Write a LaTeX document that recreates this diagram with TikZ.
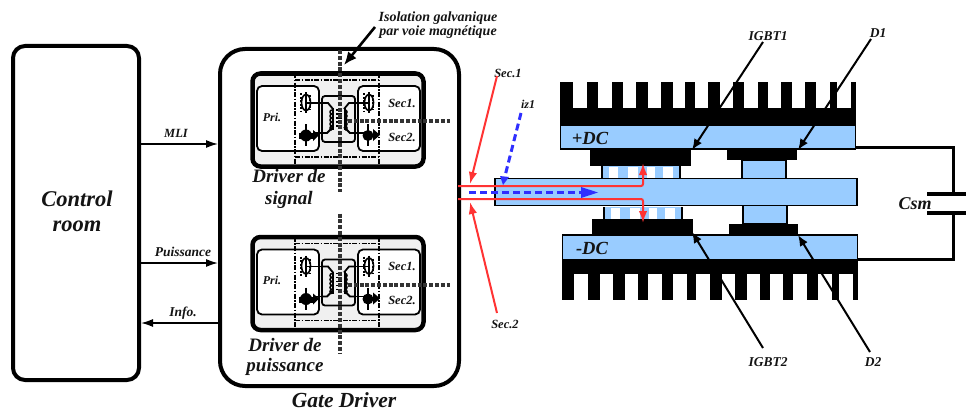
\documentclass[tikz,border=0pt]{standalone}
\usepackage{fontspec}
\setmainfont{Liberation Serif}
\usetikzlibrary{arrows.meta}
\definecolor{barblue}{HTML}{99CCFF}
\definecolor{redline}{HTML}{FF3333}
\definecolor{blueline}{HTML}{2F2FFF}
\definecolor{cellgray}{HTML}{F0F0F0}
\tikzset{
  lbl/.style={inner sep=0pt,font=\bfseries\itshape\fontsize{#1}{#1}\selectfont,text=black!92},
  bigbox/.style={draw=black,line width=4pt,fill=white,inner sep=0pt},
  bar/.style={draw=black,line width=1.8pt,fill=barblue},
  sigarrow/.style={line width=1.5pt,-{Latex[length=12pt,width=8pt]}},
  pointer/.style={line width=2pt,-{Latex[length=11pt,width=9pt]}},
  redarrow/.style={draw=redline,line width=2pt,-{Latex[length=12pt,width=8.5pt]}},
  bluedash/.style={draw=blueline,line width=3pt,dash pattern=on 7pt off 4pt},
  heavydash/.style={line width=4pt,draw=black!80,dash pattern=on 4pt off 1.8pt},
  dashdot/.style={line width=1.6pt,dash pattern=on 5pt off 1.5pt on 1.5pt off 1.5pt},
  wire/.style={line width=1.8pt},
  capwire/.style={line width=3pt,line join=miter}
}
\newcommand{\drivercell}[1]{%
  \node[bigbox,line width=4.5pt,fill=cellgray,rounded corners=8pt,minimum width=171pt,minimum height=93pt] (#1box) at (338,120) {};
  \draw[wire,fill=white,rounded corners=5pt] (257,86) rectangle (319,151);
  \draw[wire,fill=white,rounded corners=5pt] (358,86) rectangle (420,151);
  \draw[wire,rounded corners=3pt] (322,96) rectangle (355,142);
  \foreach \xx/\ww in {306/322,369/355}{
    \draw[line width=1.8pt] (\xx,92) -- (\xx,113);
    \draw[line width=1.6pt] (\xx,102.5) ellipse (4.5pt and 8pt);
    \draw[line width=2.4pt,dash pattern=on 2pt off 1.5pt] (\xx-5,93) -- (\xx-5,112);
    \draw[line width=2.4pt,dash pattern=on 2pt off 1.5pt] (\xx+4,95) -- (\xx+4,110);
    \draw[wire] (\xx,103) -- (\ww,103);
  }
  \fill (306,135.5) circle (6pt);
  \fill (299,133) rectangle (313,139);
  \fill (313,130) -- (319,135) -- (313,141) -- cycle;
  \draw[wire] (306,124) -- (306,146);
  \draw[wire] (313,133) -- (322,133);
  \fill (368,135.5) circle (5.5pt);
  \fill (373,129) -- (380,135) -- (373,141) -- cycle;
  \draw[wire] (368,124) -- (368,146);
  \draw[wire] (355,133) -- (365,133);
  \draw[wire] (322,103) -- (328,103) -- (333,109);
  \draw[wire] (322,133) -- (327,133) -- (333,127);
  \draw[wire] (355,103) -- (349,103) -- (344,109);
  \draw[wire] (355,133) -- (350,133) -- (344,127);
  \foreach \yy in {110,114,118,122,126}{
    \draw[line width=1.5pt] (332,\yy) arc[start angle=90,end angle=270,radius=2pt];
    \draw[line width=1.5pt] (345,\yy) arc[start angle=90,end angle=-90,radius=2pt];
    \draw[line width=1.8pt] (336,\yy) -- (342,\yy);
  }
  \draw[line width=1.5pt] (333,108) -- (333,130);
  \draw[line width=1.5pt] (345,108) -- (345,130);
  \draw[dashdot] (295,80) -- (379,80);
  \draw[dashdot] (295,157) -- (379,157);
  \draw[dashdot] (295,73) -- (295,164);
  \draw[dashdot] (379,73) -- (379,164);
  \node[lbl=12] (#1pri) at (272,117) {Pri.};
  \node[lbl=12.5] (#1seca) at (402,103) {Sec1.};
  \node[lbl=12.5] (#1secb) at (402,137) {Sec2.};
  \draw[heavydash] (348,121) -- (450,121);
}
\begin{document}
\begin{tikzpicture}[x=1pt,y=-1pt]
\useasboundingbox[fill=white] (0,0) rectangle (966,412);
\node[bigbox,rounded corners=12pt,minimum width=126pt,minimum height=334pt] (ctrl) at (76,213) {};
\node[lbl=22.5,align=center] (ctrltxt) at (77,211) {Control\\[2.5pt]room};
\node[bigbox,rounded corners=25pt,minimum width=239pt,minimum height=337pt] (gate) at (339.5,217.5) {};
\node[lbl=21.5] (gatetxt) at (344,400.5) {Gate Driver};
\drivercell{sig}
\draw[heavydash] (340,50) -- (340,192);
\begin{scope}[shift={(0,163.5)}]
\drivercell{pow}
\draw[heavydash] (340,50) -- (340,190);
\end{scope}
\node[lbl=19,align=center] (sigtxt) at (289,189) {Driver de\\[3pt]signal};
\node[lbl=19,align=center] (powtxt) at (285,357) {Driver de\\[1pt]puissance};
\node[lbl=14,align=center] (iso) at (438,25) {Isolation galvanique\\par voie magnétique};
\coordinate (isoa) at (375,27);
\coordinate (isob) at (344,65);
\draw[line width=2.6pt,-{Latex[length=13pt,width=11pt]}] (isoa) -- (isob);
\node[lbl=12.5] (mli) at (176,133) {MLI};
\node[lbl=13.5] (pui) at (183,252) {Puissance};
\node[lbl=13.5] (inf) at (183,313) {Info.};
\coordinate (ya) at (0,144);
\coordinate (yb) at (0,263);
\coordinate (yc) at (0,323);
\draw[sigarrow] (ctrl.east |- ya) -- (gate.west |- ya);
\draw[sigarrow] (ctrl.east |- yb) -- (gate.west |- yb);
\draw[sigarrow] (gate.west |- yc) -- (ctrl.east |- yc);
\foreach \a/\b in {560/573,587/598,612/623,636/648,661/673,685/695,708/720,733/744,758/768,781/792,805/816,830/837,851/856}
  \fill (\a,82) rectangle (\b,109);
\fill (560,108) rectangle (856,125);
\node[bar,minimum width=295pt,minimum height=24pt,inner sep=0pt] (plusdc) at (708,137) {};
\node[lbl=18.5] (plustxt) at (590,138) {+DC};
\foreach \a/\b in {562/574,588/600,613/625,638/648,662/673,687/696,710/722,735/747,760/770,783/793,807/818,832/839,853/858}
  \fill (\a,273) rectangle (\b,300);
\fill (562,260) rectangle (858,274);
\node[bar,minimum width=295pt,minimum height=25pt,inner sep=0pt] (minusdc) at (710,247.5) {};
\node[lbl=18.5] (minustxt) at (592,248) {-DC};
\fill (590,150) rectangle (691,166);
\fill (592,219) rectangle (693,236);
\fill (727,150) rectangle (797,160);
\fill (729,224) rectangle (798,236);
\foreach \d/\s in {0/0,2/41}{
  \fill[barblue] (602+\d,166+\s) rectangle (680+\d,178+\s);
  \foreach \a/\b in {609/618,628/638,647/655,663/673}
    \fill[white] (\a+\d,167+\s) rectangle (\b+\d,178+\s);
  \draw[line width=1.8pt] (602+\d,166+\s) -- (602+\d,178+\s) (680+\d,166+\s) -- (680+\d,178+\s);
}
\draw[bar] (742,160) rectangle (786,179);
\draw[bar] (743,205) rectangle (787,224);
\node[bar,minimum width=362pt,minimum height=27pt,inner sep=0pt] (mid) at (676,192) {};
\coordinate (capa) at (953,194);
\coordinate (capb) at (953,213);
\coordinate (capla) at (927,194);
\coordinate (capra) at (966,194);
\coordinate (caplb) at (927,213);
\coordinate (caprb) at (966,213);
\coordinate (yd) at (0,147);
\coordinate (ye) at (0,259);
\draw[capwire] (plusdc.east |- yd) -- (capa |- yd) -- (capa);
\draw[capwire] (minusdc.east |- ye) -- (capb |- ye) -- (capb);
\draw[line width=3.2pt] (capla) -- (capra);
\draw[line width=3.2pt] (caplb) -- (caprb);
\node[lbl=18] (csm) at (915,204) {Csm};
\node[lbl=13.5] (igbta) at (768,36) {IGBT1};
\node[lbl=13.5] (da) at (878,33) {D1};
\node[lbl=13.5] (igbtb) at (768,362) {IGBT2};
\node[lbl=13.5] (db) at (873,362) {D2};
\coordinate (pa) at (692,150);
\coordinate (pb) at (798,150);
\coordinate (pc) at (692,232);
\coordinate (pd) at (798,235);
\draw[pointer] (763,42) -- (pa);
\draw[pointer] (871,39) -- (pb);
\draw[pointer] (763,348) -- (pc);
\draw[pointer] (870,352) -- (pd);
\coordinate (rta) at (458,186);
\coordinate (rtb) at (643,186);
\coordinate (rtc) at (643,163);
\coordinate (rba) at (458,199);
\coordinate (rbb) at (643,199);
\coordinate (rbc) at (643,223);
\draw[redarrow,rounded corners=2pt] (rta) -- (rtb) -- (rtc);
\draw[redarrow,rounded corners=2pt] (rba) -- (rbb) -- (rbc);
\coordinate (bla) at (469,192.5);
\coordinate (blb) at (598,192.5);
\coordinate (blc) at (585,192.5);
\draw[bluedash] (bla) -- (blc);
\fill[blueline] (581,187) -- (blb) -- (581,198) -- cycle;
\node[lbl=12.5] (seca) at (508,73) {Sec.1};
\node[lbl=12.5] (secb) at (505,324) {Sec.2};
\node[lbl=12] (iz) at (528,104) {iz1};
\coordinate (sa) at (470,184);
\coordinate (sb) at (470,202);
\coordinate (ib) at (503,185);
\draw[redarrow] (497,76) -- (sa);
\draw[redarrow] (497,313) -- (sb);
\draw[bluedash] (521,113) -- (505,176);
\fill[blueline] (500,176) -- (ib) -- (509,177) -- cycle;
\end{tikzpicture}
\end{document}
